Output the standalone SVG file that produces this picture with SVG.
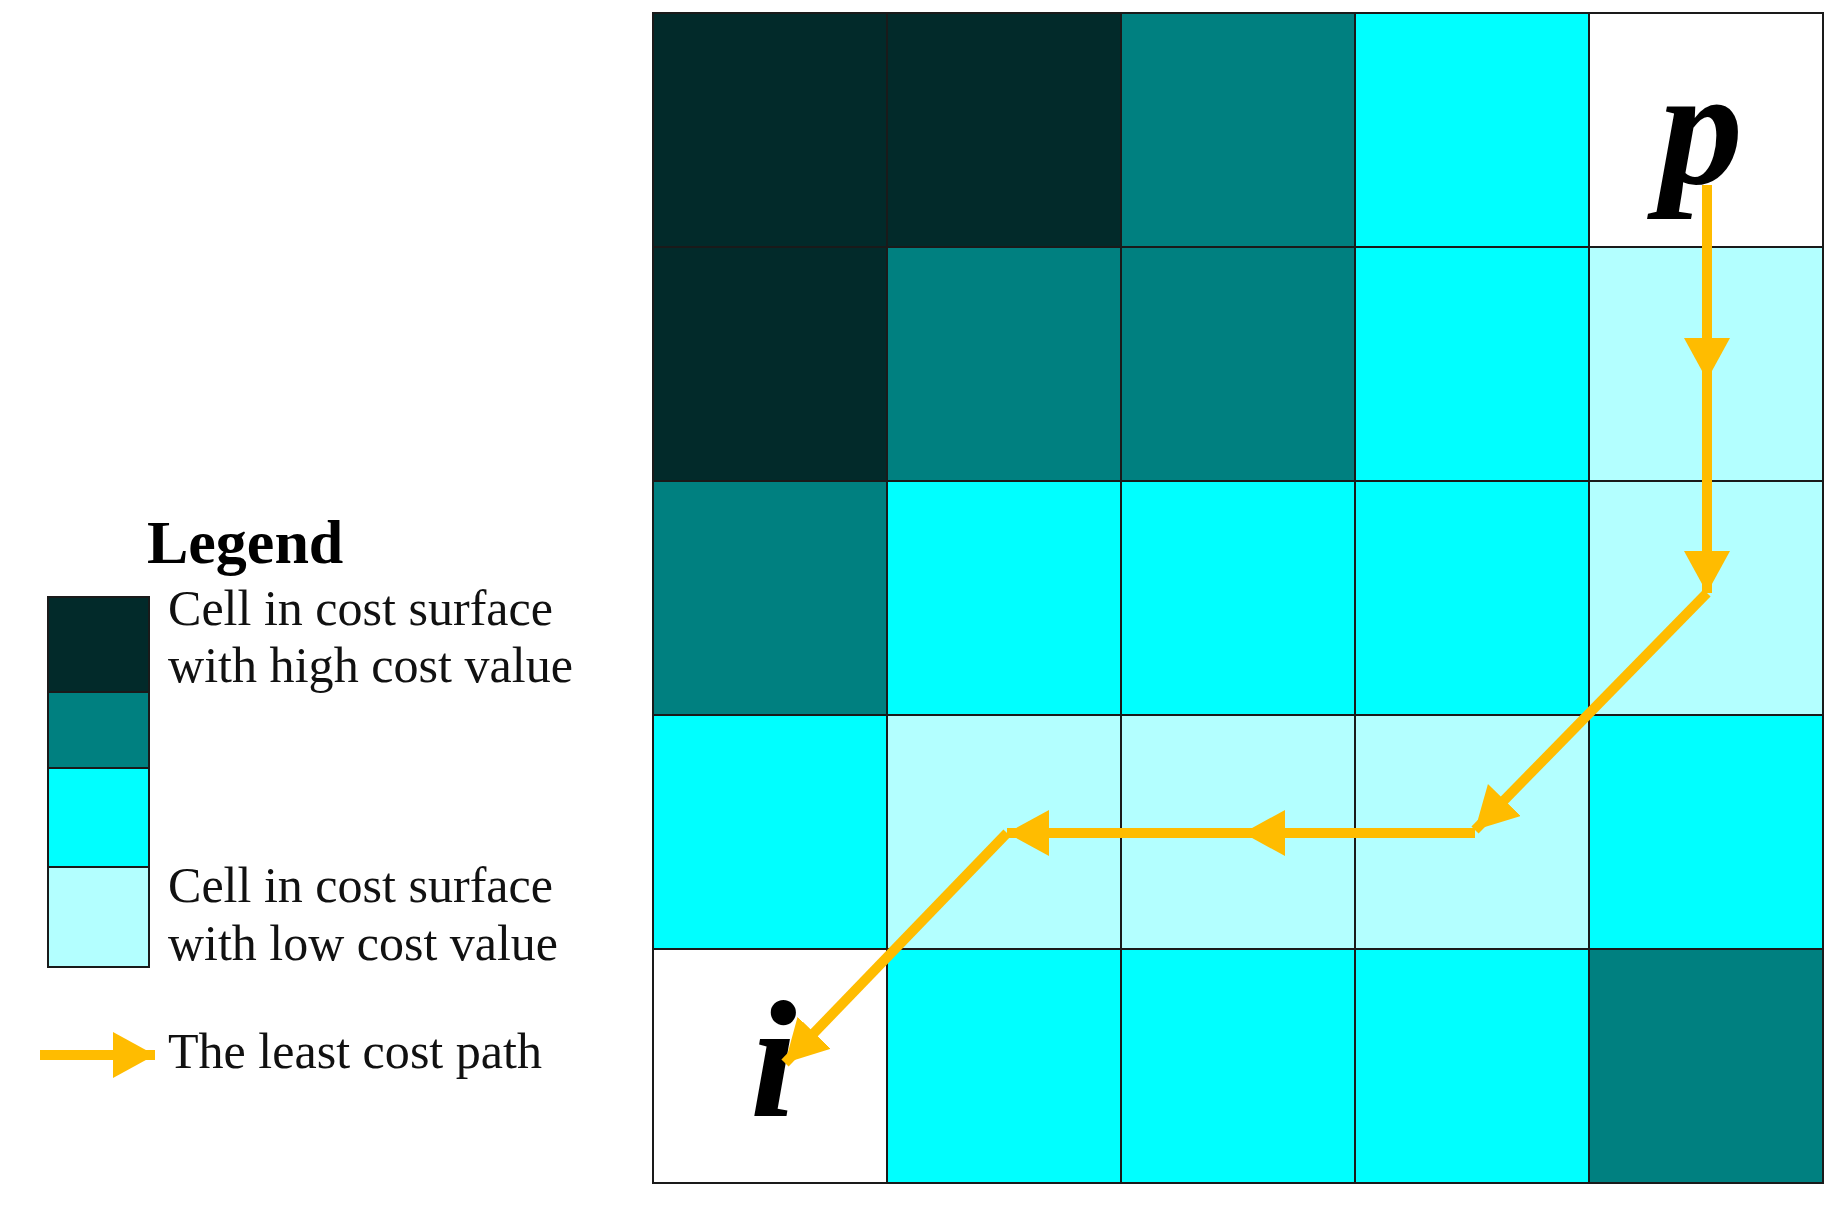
<svg xmlns="http://www.w3.org/2000/svg" width="1848" height="1210" viewBox="0 0 1848 1210">
<style>
.c{stroke:#1a1a1a;stroke-width:2}
.d{fill:#022a2a}
.t{fill:#008080}
.y{fill:#00ffff}
.l{fill:#b3ffff}
.w{fill:#ffffff}
.path{stroke:#ffbc00;stroke-width:10;fill:none;marker-end:url(#ah)}
.lbl{font-family:"Liberation Serif","Times New Roman",serif;font-size:50px;fill:#111}
.big{font-family:"Liberation Serif","Times New Roman",serif;font-weight:bold;font-style:italic;font-size:168px;fill:#000}
</style>
<defs>
<marker id="ah" markerUnits="userSpaceOnUse" markerWidth="46" markerHeight="48" refX="42" refY="23" orient="auto">
<path d="M0,0 L42,23 L0,46 Z" fill="#ffbc00"/>
</marker>
</defs>
<rect width="1848" height="1210" fill="#ffffff"/>
<g id="grid">
<rect class="c d" x="653" y="13" width="234" height="234"/>
<rect class="c d" x="887" y="13" width="234" height="234"/>
<rect class="c t" x="1121" y="13" width="234" height="234"/>
<rect class="c y" x="1355" y="13" width="234" height="234"/>
<rect class="c w" x="1589" y="13" width="234" height="234"/>
<rect class="c d" x="653" y="247" width="234" height="234"/>
<rect class="c t" x="887" y="247" width="234" height="234"/>
<rect class="c t" x="1121" y="247" width="234" height="234"/>
<rect class="c y" x="1355" y="247" width="234" height="234"/>
<rect class="c l" x="1589" y="247" width="234" height="234"/>
<rect class="c t" x="653" y="481" width="234" height="234"/>
<rect class="c y" x="887" y="481" width="234" height="234"/>
<rect class="c y" x="1121" y="481" width="234" height="234"/>
<rect class="c y" x="1355" y="481" width="234" height="234"/>
<rect class="c l" x="1589" y="481" width="234" height="234"/>
<rect class="c y" x="653" y="715" width="234" height="234"/>
<rect class="c l" x="887" y="715" width="234" height="234"/>
<rect class="c l" x="1121" y="715" width="234" height="234"/>
<rect class="c l" x="1355" y="715" width="234" height="234"/>
<rect class="c y" x="1589" y="715" width="234" height="234"/>
<rect class="c w" x="653" y="949" width="234" height="234"/>
<rect class="c y" x="887" y="949" width="234" height="234"/>
<rect class="c y" x="1121" y="949" width="234" height="234"/>
<rect class="c y" x="1355" y="949" width="234" height="234"/>
<rect class="c t" x="1589" y="949" width="234" height="234"/>
</g>
<g id="node-p"><text class="big" x="1659" y="183">p</text></g>
<g id="node-i"><text class="big" x="750" y="1116">i</text></g>
<g id="connectors">
<line class="path" x1="1707" y1="185" x2="1707" y2="380"/>
<line class="path" x1="1707" y1="380" x2="1707" y2="593"/>
<line class="path" x1="1707" y1="593" x2="1475" y2="830"/>
<line class="path" x1="1475" y1="833" x2="1243" y2="833"/>
<line class="path" x1="1243" y1="833" x2="1007" y2="833"/>
<line class="path" x1="1007" y1="833" x2="785" y2="1063"/>
</g>
<g id="legend">
<text x="147" y="563" font-family="'Liberation Serif','Times New Roman',serif" font-weight="bold" font-size="62" fill="#000">Legend</text>
<rect class="c d" x="48" y="597" width="101" height="95"/>
<rect class="c t" x="48" y="692" width="101" height="76"/>
<rect class="c y" x="48" y="768" width="101" height="99"/>
<rect class="c l" x="48" y="867" width="101" height="100"/>
<text class="lbl" x="168" y="625" textLength="385" lengthAdjust="spacingAndGlyphs">Cell in cost surface</text>
<text class="lbl" x="168" y="682" textLength="405" lengthAdjust="spacingAndGlyphs">with high cost value</text>
<text class="lbl" x="168" y="902" textLength="385" lengthAdjust="spacingAndGlyphs">Cell in cost surface</text>
<text class="lbl" x="168" y="960" textLength="390" lengthAdjust="spacingAndGlyphs">with low cost value</text>
<line class="path" x1="40" y1="1055" x2="155" y2="1055"/>
<text class="lbl" x="168" y="1068" textLength="374" lengthAdjust="spacingAndGlyphs">The least cost path</text>
</g>
</svg>
